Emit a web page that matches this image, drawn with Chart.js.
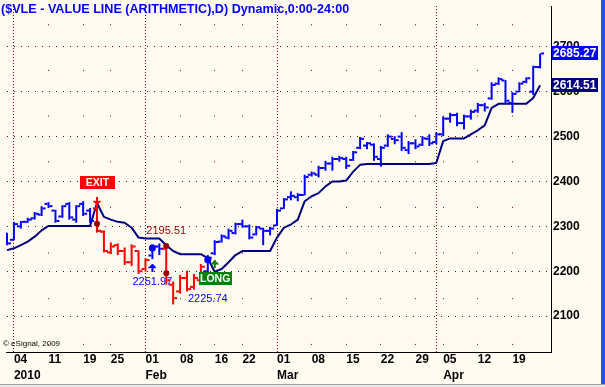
<!DOCTYPE html>
<html lang="en">
<head>
<meta charset="UTF-8" />
<title>$VLE - Value Line</title>
<style>
  html, body { margin: 0; padding: 0; background: #fffbf0; }
  #chart { display: block; }
</style>
</head>
<body>
<canvas id="chart" width="605" height="387"></canvas>
<script src="https://cdn.jsdelivr.net/npm/chart.js@4"></script>
<script>
// daily bars 31 Dec 2009 .. 23 Apr 2010, x = trading day index
const opens  = [2284,2270,2300,2310,2318,2326,2350,2335,2322,2350, 2315,2350,2335,2340,2288,2242,2258,2245,2220,2245,
                2205,2235,2255,2250,2170,2155,2185,2165,2180,2200, 2240,2266,2275,2285,2305,2300,2282,2295,2290,2302,
                2340,2365,2365,2370,2415,2415,2430,2440,2450,2450, 2448,2475,2480,2482,2450,2480,2495,2500,2470,2485,
                2482,2495,2488,2505,2540,2548,2530,2545,2558,2570, 2585,2618,2625,2575,2600,2622,2600,2655];
const highs  = [2286,2310,2312,2319,2332,2345,2354,2337,2347,2354, 2347,2356,2341,2365,2291,2264,2262,2253,2260,2247,
                2229,2260,2262,2258,2177,2192,2201,2194,2216,2236, 2269,2282,2295,2308,2315,2304,2301,2297,2299,2339,
                2363,2378,2374,2415,2422,2435,2446,2455,2457,2455, 2468,2499,2488,2485,2479,2505,2501,2510,2490,2494,
                2501,2505,2510,2545,2553,2553,2549,2560,2575,2575, 2621,2632,2626,2599,2621,2632,2658,2685.27];
const lows   = [2258,2269,2295,2308,2315,2323,2341,2308,2319,2315, 2308,2323,2308,2286,2242,2238,2236,2214,2212,2194,
                2199,2227,2236,2170,2126,2150,2155,2159,2170,2170, 2236,2264,2271,2282,2297,2271,2280,2258,2280,2301,
                2339,2358,2356,2369,2411,2409,2424,2424,2444,2428, 2446,2472,2472,2446,2433,2477,2483,2468,2461,2472,
                2479,2479,2483,2501,2531,2523,2516,2538,2553,2556, 2582,2615,2575,2553,2599,2619,2593,2652];
const closes = [2262,2305,2310,2315,2328,2340,2345,2312,2345,2320, 2345,2328,2312,2290,2245,2255,2245,2220,2255,2200,
                2225,2255,2250,2180,2140,2185,2160,2185,2210,2230, 2265,2278,2290,2305,2300,2275,2298,2290,2295,2335,
                2360,2368,2370,2410,2418,2430,2440,2450,2452,2435, 2465,2495,2485,2455,2475,2500,2492,2475,2485,2478,
                2496,2485,2505,2540,2548,2530,2545,2555,2570,2565, 2615,2628,2580,2595,2618,2630,2655,2685.27];
// trailing stop study
const stopLine = [2247,2251,2258,2266,2277,2291,2301,2301,2301,2301, 2301,2301,2301,2352,2321,2315,2310,2308,2297,2275,
                  2273,2273,2273,2258,2245,2238,2238,2238,2238,2229, 2199,2205,2220,2236,2245,2245,2245,2245,2245,2275,
                  2297,2304,2315,2356,2367,2374,2389,2400,2400,2402, 2422,2437,2439,2439,2439,2439,2439,2439,2439,2439,
                  2439,2439,2441,2490,2496,2496,2496,2505,2514,2525, 2564,2573,2573,2573,2573,2573,2586,2614.51];
// 1 = long (blue bars), 0 = out (red bars)
const longState = [1,1,1,1,1,1,1,1,1,1, 1,1,1,0,0,0,0,0,0,0,
                   0,1,1,0,0,0,0,0,0,1, 1,1,1,1,1,1,1,1,1,1,
                   1,1,1,1,1,1,1,1,1,1, 1,1,1,1,1,1,1,1,1,1,
                   1,1,1,1,1,1,1,1,1,1, 1,1,1,1,1,1,1,1];

const weekTickIdx   = [1,6,11,15,20,25,30,34,39,44,49,54,59,63,68,73];
const weekTickDay   = ['04','11','19','25','01','08','16','22','01','08','15','22','29','05','12','19'];
const weekTickMonth = ['2010','','','','Feb','','','','Mar','','','','','Apr','',''];
const monthStartIdx = [1,20,39,62];
const priceTicks = [2100,2200,2300,2400,2500,2600,2700];

const exitDots   = [{x:13, y:2306}, {x:23, y:2256}, {x:23, y:2195.51}];
const entryDots  = [{x:21, y:2251.97}, {x:29, y:2225.74}];
const sellArrows = [{x:13, y:2357}];
const buyArrows  = [{x:21, y:2207}];
const longArrows = [{x:30, y:2215}];
const noteIdx   = [23, 21, 29];
const notePrice = [2195.51, 2251.97, 2225.74];
const exitIdx = 13, longIdx = 30;

const titleText = '($VLE - VALUE LINE (ARITHMETIC),D) Dynamic,0:00-24:00';
const FONT = '"Liberation Sans", Arial, sans-serif';
const BLUE = '#0000ff', RED = '#ff0000', NAVY = '#000080', DKRED = '#990000', GREEN = '#008000';

const barColors = longState.map(s => s ? BLUE : RED);

function arrowImg(color, down) {
  const c = document.createElement('canvas');
  c.width = 8; c.height = 8;
  const g = c.getContext('2d');
  g.fillStyle = color;
  const rows = [[3,2],[2,4],[1,6],[0,8],[3,2],[3,2],[3,2],[3,2]];
  rows.forEach(([x, w], i) => g.fillRect(x, down ? 7 - i : i, w, 1));
  return c;
}

const decor = {
  id: 'decor',
  beforeDraw(chart) {
    const c = chart.ctx;
    c.save();
    c.fillStyle = '#fffbf0';
    c.fillRect(0, 0, chart.width, chart.height);
    c.restore();
  },
  beforeDatasetsDraw(chart) {
    const {ctx, scales: {x, y}} = chart;
    const offs = [-42, 34, 39];
    const cols = [DKRED, BLUE, BLUE];
    ctx.save();
    ctx.font = '11px ' + FONT;
    ctx.textAlign = 'center';
    ctx.textBaseline = 'middle';
    noteIdx.forEach((i, k) => {
      ctx.fillStyle = cols[k];
      ctx.fillText(notePrice[k].toFixed(2), x.getPixelForValue(i), y.getPixelForValue(notePrice[k]) + offs[k]);
    });
    ctx.restore();
  },
  afterDatasetsDraw(chart) {
    const {ctx, scales: {x, y}} = chart;
    const tag = (text, cx, cy, w, fill) => {
      ctx.fillStyle = fill;
      ctx.fillRect(Math.round(cx - w / 2), Math.round(cy - 6.5), w, 13);
      ctx.fillStyle = '#ffffff';
      ctx.fillText(text, cx, cy + 1);
    };
    ctx.save();
    ctx.font = 'bold 10.5px ' + FONT;
    ctx.textAlign = 'center';
    ctx.textBaseline = 'middle';
    tag('EXIT', x.getPixelForValue(exitIdx) + 0.5, y.getPixelForValue(highs[exitIdx]) - 15, 35, RED);
    tag('LONG', x.getPixelForValue(longIdx) + 0.5, y.getPixelForValue(lows[longIdx]) + 23, 33, GREEN);
    ctx.restore();
  },
  afterDraw(chart) {
    const {ctx, scales: {y}} = chart;
    ctx.save();
    // last value boxes on the price axis
    ctx.font = 'bold 12px ' + FONT;
    ctx.textBaseline = 'middle';
    ctx.textAlign = 'left';
    [[closes[closes.length - 1], BLUE], [stopLine[stopLine.length - 1], NAVY]].forEach(([v, fill]) => {
      const py = Math.round(y.getPixelForValue(v));
      ctx.fillStyle = fill;
      ctx.fillRect(552, py - 7, 46, 14);
      ctx.fillStyle = '#ffffff';
      ctx.fillText(v.toFixed(2), 553, py + 0.5);
    });
    // window frame
    ctx.fillStyle = '#2a4cf2';
    ctx.fillRect(601, 0, 4, 385);
    ctx.fillStyle = '#a0a0a0';
    ctx.fillRect(0, 384, 605, 1);
    ctx.fillStyle = '#e8e8e8';
    ctx.fillRect(0, 385, 605, 2);
    // title and copyright
    ctx.fillStyle = BLUE;
    ctx.font = 'bold 12.6px ' + FONT;
    ctx.textBaseline = 'alphabetic';
    ctx.fillText(titleText, 1, 13);
    ctx.fillStyle = '#000000';
    ctx.font = '8px ' + FONT;
    ctx.fillText('\u00a9 eSignal, 2009', 3, 346);
    ctx.restore();
  }
};

const toPts = (arr, dx) => arr.map((v, i) => ({x: i + dx, y: v}));

new Chart(document.getElementById('chart'), {
  type: 'bar',
  data: {
    datasets: [
      {
        type: 'line', data: toPts(stopLine, 0), borderColor: NAVY, borderWidth: 2,
        pointRadius: 0, tension: 0, borderJoinStyle: 'round', order: 5
      },
      {
        type: 'bar', data: highs.map((h, i) => ({x: i, y: [lows[i], h]})),
        backgroundColor: barColors, barThickness: 2, borderWidth: 0, inflateAmount: 0,
        grouped: false, order: 3
      },
      {
        type: 'scatter', data: toPts(opens, -2.5 / 7), pointStyle: 'line', pointRadius: 1.5,
        pointBorderWidth: 2, pointBorderColor: barColors, order: 2
      },
      {
        type: 'scatter', data: toPts(closes, 2.5 / 7), pointStyle: 'line', pointRadius: 1.5,
        pointBorderWidth: 2, pointBorderColor: barColors, order: 2
      },
      { type: 'scatter', data: exitDots, pointRadius: 3, pointBackgroundColor: DKRED, pointBorderWidth: 0, order: 1 },
      { type: 'scatter', data: entryDots, pointRadius: 3.5, pointBackgroundColor: BLUE, pointBorderWidth: 0, order: 1 },
      { type: 'scatter', data: sellArrows, pointStyle: arrowImg(RED, true), order: 0 },
      { type: 'scatter', data: buyArrows, pointStyle: arrowImg(BLUE, false), order: 0 },
      { type: 'scatter', data: longArrows, pointStyle: arrowImg(GREEN, false), order: 0 }
    ]
  },
  options: {
    responsive: false,
    animation: false,
    devicePixelRatio: 1,
    events: [],
    layout: { padding: 0 },
    plugins: { legend: { display: false }, tooltip: { enabled: false }, title: { display: false } },
    scales: {
      x: {
        type: 'linear',
        min: -1 / 7,
        max: 550 / 7,
        offset: false,
        afterBuildTicks: s => { s.ticks = weekTickIdx.concat(monthStartIdx.filter(v => !weekTickIdx.includes(v))).sort((a, b) => a - b).map(v => ({value: v})); },
        afterFit: s => { s.height = 35; s.paddingLeft = 0; s.paddingRight = 0; s.paddingTop = 0; s.paddingBottom = 0; },
        ticks: {
          autoSkip: false, maxRotation: 0, minRotation: 0, align: 'start', padding: 0,
          color: '#000000',
          font: { family: FONT, size: 12, weight: 'bold', lineHeight: '16px' },
          callback: v => {
            const k = weekTickIdx.indexOf(v);
            if (k < 0) return '';
            return weekTickMonth[k] ? [weekTickDay[k], weekTickMonth[k]] : weekTickDay[k];
          }
        },
        grid: { offset: false, color: '#800000', lineWidth: 1, drawTicks: false },
        border: {
          color: '#000000', width: 1,
          dash: c => (c.tick && monthStartIdx.includes(c.tick.value)) ? [1, 2] : [1, 44.67],
          dashOffset: c => (c.tick && monthStartIdx.includes(c.tick.value)) ? 0 : 27.47
        }
      },
      y: {
        type: 'linear',
        position: 'right',
        min: 2020,
        max: 2791,
        afterBuildTicks: s => { s.ticks = priceTicks.map(v => ({value: v})); },
        afterFit: s => { s.width = 54; s.paddingLeft = 0; s.paddingRight = 0; s.paddingTop = 0; s.paddingBottom = 0; },
        ticks: {
          padding: 2, color: '#000000',
          font: { family: FONT, size: 12, weight: 'bold' },
          callback: v => String(v)
        },
        grid: { color: '#800000', lineWidth: 1, drawTicks: false },
        border: { color: '#000000', width: 1, dash: [1, 6], dashOffset: 6 }
      }
    }
  },
  plugins: [decor]
});
</script>
</body>
</html>
